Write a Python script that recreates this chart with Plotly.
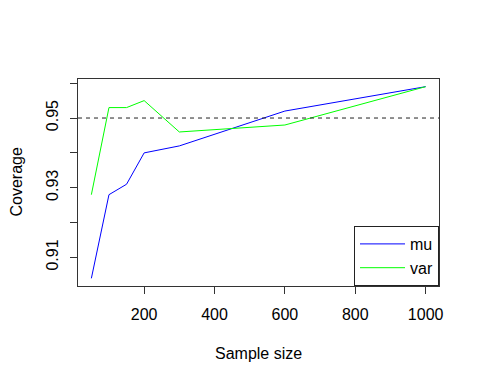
import plotly.graph_objects as go

sample_size = [50, 100, 150, 200, 300, 600, 1000]
cov_mu = [0.904, 0.928, 0.931, 0.940, 0.942, 0.952, 0.959]
cov_var = [0.928, 0.953, 0.953, 0.955, 0.946, 0.948, 0.959]
nominal = 0.95
y_ticks = [0.91, 0.92, 0.93, 0.94, 0.95, 0.96]
y_ticktext = ["0.91", "", "0.93", "", "0.95", ""]
x_ticks = [200, 400, 600, 800, 1000]

font = "Liberation Sans, Arial, sans-serif"
fig = go.Figure()
fig.add_trace(go.Scatter(x=sample_size, y=cov_mu, mode="lines", name="mu",
                         line=dict(color="#0000ff", width=1)))
fig.add_trace(go.Scatter(x=sample_size, y=cov_var, mode="lines", name="var",
                         line=dict(color="#00ff00", width=1)))
fig.add_hline(y=nominal, line=dict(color="#222222", width=1, dash="4px,4px"))

fig.add_annotation(text="Sample size", xref="paper", yref="paper", x=0.5, y=-67/207,
                   xanchor="center", yanchor="middle", showarrow=False,
                   font=dict(size=16))
fig.add_annotation(text="Coverage", xref="paper", yref="paper", x=-62/361, y=0.5,
                   xanchor="center", yanchor="middle", showarrow=False, textangle=-90,
                   font=dict(size=16))

# page body adds an 8px offset; compensate on the left/top
fig.update_layout(
    width=472, height=376,
    margin=dict(l=70, r=41, t=71, b=98),
    plot_bgcolor="white", paper_bgcolor="white",
    font=dict(family=font, size=16, color="black"),
    showlegend=True,
    legend=dict(x=1, y=0, xanchor="right", yanchor="bottom",
                bordercolor="#222222", borderwidth=1, bgcolor="white",
                font=dict(size=16), itemwidth=45, tracegroupgap=0),
    xaxis=dict(range=[12, 1038], tickvals=x_ticks, ticks="outside", ticklen=7,
               tickcolor="#333333", showgrid=False, zeroline=False, automargin=False,
               showline=True, linecolor="#333333", mirror=True,
               tickfont=dict(size=16), ticklabelstandoff=7),
    yaxis=dict(range=[0.9018, 0.9612], tickvals=y_ticks, ticktext=y_ticktext,
               ticks="outside", ticklen=7, tickcolor="#333333", tickangle=-90,
               showgrid=False, zeroline=False, showline=True, linecolor="#333333",
               mirror=True, automargin=False, tickfont=dict(size=16),
               ticklabelstandoff=6),
)
fig.write_html("out.html")
